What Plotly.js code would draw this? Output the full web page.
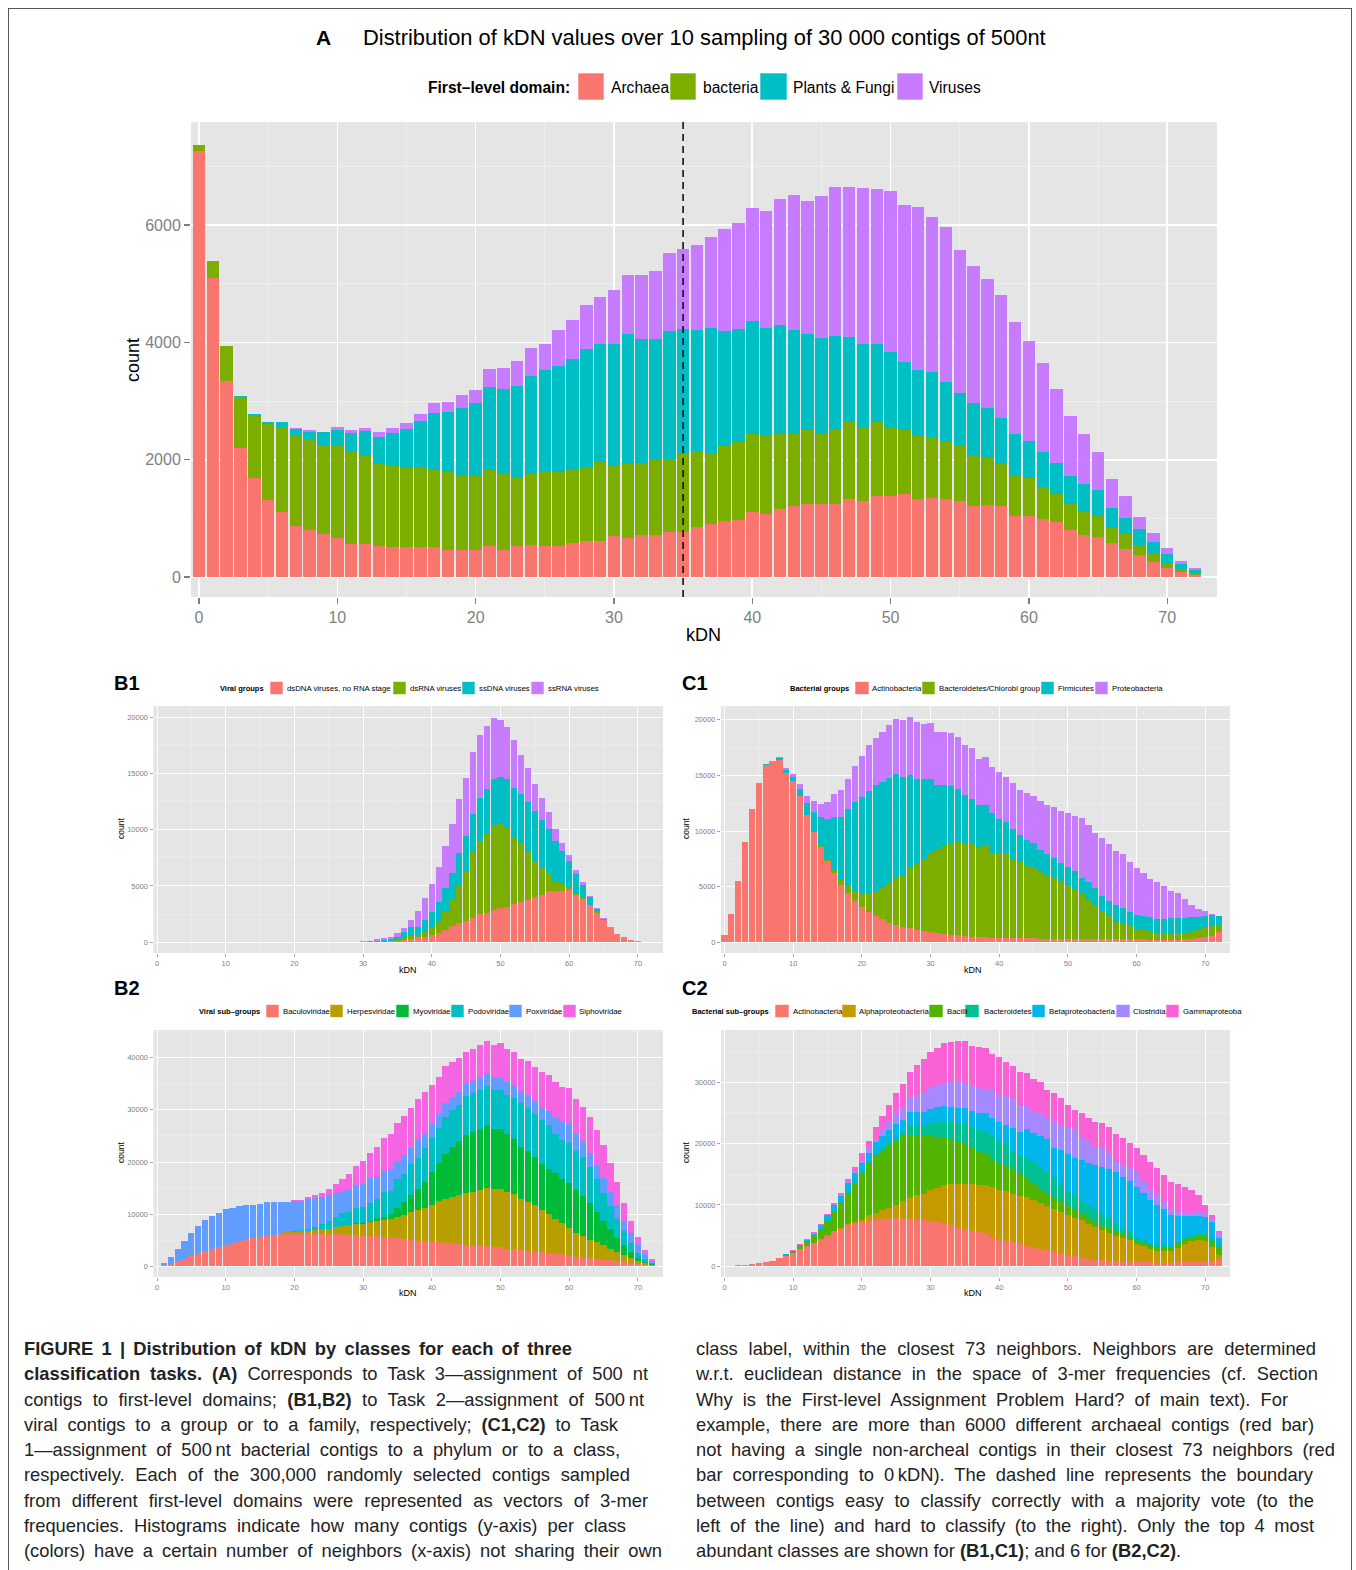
<!DOCTYPE html>
<html>
<head>
<meta charset="utf-8">
<script src="https://cdn.plot.ly/plotly-3.0.1.min.js"></script>
<style>
  html, body { margin:0; padding:0; background:#fff; width:1356px; height:1570px; overflow:hidden; }
  #frame { position:absolute; left:8px; top:8px; width:1344px; height:1620px; border:1px solid #555; box-sizing:border-box; }
  #chart { position:absolute; left:0; top:0; width:1356px; height:1320px; }
  .capline { position:absolute; white-space:nowrap; font-family:"Liberation Sans", Arial, sans-serif; font-size:19px; line-height:22px; color:#222; transform-origin:0 50%; }
</style>
</head>
<body>
<div id="frame"></div>
<div id="chart"></div>
<div id="caption"></div>
<script>
// ---------------- DATA ----------------
const kdn = Array.from({length:73}, (_, i) => i);
const kdnTicks = [0,10,20,30,40,50,60,70];

// Panel A: first-level domains
const aNames = ["Archaea","bacteria","Plants & Fungi","Viruses"];
const aArchaea = [7270,5100,3350,2200,1680,1320,1100,875,805,735, 660,555,555,530,510,510,505,510,465,465, 465,525,465,525,545,535,535,575,610,610, 705,665,720,715,765,775,850,910,950,975, 1100,1080,1160,1205,1245,1250,1245,1335,1295,1375, 1375,1410,1325,1345,1325,1290,1205,1220,1215,1035, 1035,990,930,805,710,690,575,485,370,250, 150,85,30];
const aBacteria = [100,290,590,870,1080,1290,1460,1535,1540,1515, 1575,1575,1515,1400,1400,1350,1370,1320,1325,1260, 1255,1305,1295,1170,1205,1270,1255,1255,1270,1350, 1185,1260,1230,1280,1240,1330,1295,1210,1290,1330, 1340,1320,1285,1225,1260,1195,1285,1305,1255,1275, 1180,1100,1075,1040,985,955,880,810,715,690, 655,540,490,435,400,355,265,245,180,140, 90,50,30];
const aPlantsFungi = [0,0,0,10,25,35,85,110,135,215, 280,320,415,455,540,665,780,970,1025,1150, 1240,1410,1450,1565,1675,1720,1805,1885,2000,2010, 2090,2210,2105,2070,2195,2120,2075,2125,1960,1920, 1930,1845,1855,1780,1635,1630,1580,1460,1430,1325, 1280,1155,1135,1110,1010,885,880,850,775,705, 630,605,525,485,480,430,345,280,265,200, 160,85,55];
const aViruses = [0,0,0,0,0,0,0,15,35,15, 35,50,55,80,95,95,130,165,170,235, 235,300,360,415,480,455,620,670,765,805, 920,1010,1100,1145,1325,1370,1445,1555,1740,1810, 1920,1990,2150,2300,2265,2420,2535,2555,2660,2640, 2740,2670,2775,2650,2640,2450,2340,2205,2095,1915, 1710,1515,1265,1015,840,650,490,370,215,160, 95,60,45];
const kdnBoundary = 35;

// Panel B1: viral groups
const b1Names = ["dsDNA viruses, no RNA stage","dsRNA viruses","ssDNA viruses","ssRNA viruses"];
const b1dsDNA = [0,0,0,0,0,0,0,0,0,0, 0,0,0,0,0,0,0,0,0,0, 0,0,0,0,0,0,0,0,0,0, 20,30,50,70,80, 90,235,325,445,505,650,830,1095,1420,1685,1865,2130,2485,2605,2870,3050,3165,3405,3550,3760,3995,4170,4525,4525,4555,4645,4230,3845,3285,2635,1985,1270,740,500,210,90,30,0];
const b1dsRNA = [0,0,0,0,0,0,0,0,0,0, 0,0,0,0,0,0,0,0,0,0, 0,0,0,0,0,0,0,0,0,0, 10,20,40,60,80, 115,150,265,180,385,590,1005,1655,2310,3345,4410,5950,6450,6985,7545,7485,7040,5975,5265,4290,3255,2545,1630,945,590,295,90,90,30,30,0,0,0,0,0,0,0,0];
const b1ssDNA = [0,0,0,0,0,0,0,0,0,0, 0,0,0,0,0,0,0,0,0,0, 0,0,0,0,0,0,0,0,0,10, 20,30,70,90,130, 295,530,770,770,1125,1450,1715,2100,2455,2900,3195,3285,3905,4055,4115,4115,4260,4320,4350,4440,4440,4140,3875,3490,2990,2310,1775,1185,710,325,115,30,0,0,0,0,0,0];
const b1ssRNA = [0,0,0,0,0,0,0,0,0,0, 0,0,0,0,0,0,0,0,0,0, 0,0,0,0,0,0,0,0,0,20, 30,40,110,135,210, 330,355,620,1420,1895,2515,3105,3700,4320,4795,5150,5505,5535,5590,5415,5060,4675,4290,3460,2990,2395,1985,1510,1065,710,530,295,235,120,60,60,30,0,0,0,0,0,0];

// Panel C1: bacterial groups
const c1Names = ["Actinobacteria","Bacteroidetes/Chlorobi group","Firmicutes","Proteobacteria"];
const c1Actino = [660,2520,5480,8980,11980,14340,15960,16170,16380,15210, 14460,13140,11410,9880,8590,7305,6230,5180,4430,3745, 3205,2755,2365,2065,1765,1585,1405,1255,1110,1020, 900,810,720,660,630,540,510,480,450,420, 420,420,390,390,360,360,330,330,330,300, 300,300,300,300,300,270,270,270,270,270, 270,270,240,240,240,240,240,270,330,390, 450,570,930];
const c1Bactero = [0,0,0,0,0,0,0,0,0,0, 0,0,0,0,60,180,270,420,630,900, 1255,1705,2275,2785,3535,4160,4610,5540,5985,6465, 7095,7455,7965,8290,8380,8350,8295,8025,8325,7575, 7575,7575,7095,6795,6555,6435,5990,5720,5420,5150, 4820,4520,4010,3620,3055,2545,2125,1525,1470,1200, 960,930,750,630,570,480,570,600,690,750, 960,900,570];
const c1Firmi = [0,0,0,0,0,0,20,60,150,270, 420,660,1140,1830,2575,3625,4790,5690,6945,7965, 8595,9160,9490,9580,9460,9340,8860,8235,7545,7155, 6645,5870,5420,5120,4790,4370,4070,3830,3530,3650, 3055,2815,2725,2485,2275,2155,1975,1885,1855,1645, 1675,1585,1470,1470,1495,1350,1350,1590,1375,1260, 1225,1165,1315,1260,1320,1435,1380,1320,1230,1110, 990,990,870];
const c1Proteo = [0,0,0,0,0,0,0,30,90,150, 270,420,630,960,1195,1465,2005,2395,2695,3235, 3685,4070,4250,4490,4790,4970,5120,5180,5180,5000, 5060,4790,4820,4760,4610,4430,4580,4160,4310,4130, 4220,4070,4130,4040,4190,4220,4400,4400,4550,4670, 4790,4910,5360,5180,4970,5240,5090,4820,4850,4490, 4190,3890,3415,3260,2935,2485,2215,1675,1105,780, 390,90,0];

// Panel B2: viral sub-groups
const b2Names = ["Baculoviridae","Herpesviridae","Myoviridae","Podoviridae","Poxviridae","Siphoviridae"];
const b2Baculo = [0,190,450,1090,1340,1920,2560,2940,3330,3780, 4160,4480,4800,5180,5440,5700,5890,5950,6140,6210, 6270,6270,6340,6210,6140,6080,6140,6140,6080,6020, 5890,5890,5820,5570,5570,5380,5250,5060,4930,4800, 4800,4610,4540,4420,4220,4160,4030,3970,3900,3710, 3650,3390,3260,3070,3010,2750,2690,2560,2430,2370, 2110,1860,1660,1540,1410,1280,1220,1020,830,580, 380,260,190];
const b2Herpes = [0,0,0,0,0,0,0,0,0,0, 0,0,0,0,0,0,130,130,260,320, 320,450,510,700,960,1150,1470,1600,1860,2110, 2300,2620,2880,3330,3460,4160,4670,5380,5890,6460, 7040,7940,8450,8900,9470,9980,10240,10620,11070,11070, 11140,10820,10560,9920,9340,8960,8190,7490,6720,5950, 5310,4540,4100,3580,3260,2880,2180,1790,1340,1090, 580,320,130];
const b2Myo = [0,0,0,0,0,0,0,0,0,0, 0,0,0,0,0,0,0,0,0,0, 0,0,0,0,0,0,0,0,0,130, 130,260,510,580,960,1730,2370,3140,4030,4990, 6270,7170,8580,9470,10300,11010,11520,11710,12100,11580, 11580,11070,10500,9980,9730,9280,8830,8700,8770,8510, 8580,8260,7680,6980,5700,4480,3710,2620,1920,1090, 580,190,60];
const b2Podo = [0,0,0,0,0,0,0,0,0,0, 0,0,0,0,0,0,0,0,0,0, 260,320,380,640,1020,1410,1790,2430,2500,2940, 3070,3460,3780,4800,4480,5440,5500,5950,5950,6530, 6530,6850,7100,7170,6910,7420,7420,7420,7550,7490, 7360,7550,7940,8260,8320,8130,8320,8320,7360,7420, 7740,7490,7550,6910,6460,5380,4540,3710,2750,1730, 1090,580,190];
const b2Pox = [130,510,1280,2180,3460,4480,5180,5890,6340,6530, 6780,6780,6780,6600,6400,6270,6270,6210,5950,5760, 5760,5570,5630,5570,5250,4990,4610,4350,4290,4350, 4350,4610,4220,3970,3970,3520,3520,3070,3520,2820, 2560,2560,2620,2500,2620,2300,2300,2430,2500,2430, 2560,2500,2560,2370,2370,2370,2560,2750,3070,3460, 3520,3200,2820,2690,2620,2880,2560,2620,1790,1920, 1730,1090,510];
const b2Sipho = [0,0,0,0,0,0,0,0,0,0, 0,0,0,0,0,0,0,0,0,0, 130,190,380,580,770,1280,1860,2300,3010,3650, 4480,4860,5630,6340,6980,7300,7550,7810,7680,7740, 7550,7230,7100,6780,6400,6270,6140,6270,6080,6140, 6460,6400,6270,6210,6590,6720,6720,6850,6980,6660, 6910,6720,6720,6850,6720,6340,5630,4480,3520,2240, 1220,700,260];

// Panel C2: bacterial sub-groups
const c2Names = ["Actinobacteria","Alphaproteobacteria","Bacilli","Bacteroidetes","Betaproteobacteria","Clostridia","Gammaproteobacteria"];
const c2Actino = [50,100,160,220,380,490,650,920,1360,1630, 2170,2770,3260,3800,4350,5000,5710,6140,6690,6960, 7230,7450,7610,7720,7770,7830,7770,7720,7550,7500, 7390,7170,6960,6740,6250,6030,5760,5540,5270,4840, 4510,4190,3970,3700,3370,3150,2880,2610,2390,2010, 1790,1630,1470,1250,1090,980,870,820,760,710, 650,650,650,600,600,600,650,650,710,710, 760,820,1090];
const c2Alpha = [0,0,0,0,0,0,0,0,0,0, 0,0,50,50,110,110,110,160,220,270, 270,870,1140,1410,1790,2230,2830,3320,4020,4350, 5000,5650,6250,6690,7230,7450,7610,7770,7940,8040, 7990,8040,7880,7770,7940,7610,7500,7170,7010,6850, 6520,6250,6030,5710,5330,4890,4570,4080,3860,3590, 3040,2660,2230,1960,1960,1900,2340,3040,3420,3530, 3370,2330,820];
const c2Bacilli = [0,0,0,0,0,0,0,0,0,220, 280,540,770,1040,1580,2230,3040,3910,5050,6410, 7660,8260,9240,9670,10160,10220,10760,10330,9730,9400, 8860,8100,7770,7280,6960,6410,5980,5330,5050,4670, 4350,4240,3910,3480,3260,2720,2280,2230,1740,1740, 1630,1410,980,920,820,820,820,710,710,490, 490,540,490,600,600,650,710,650,600,710, 1030,980,1250];
const c2Bactero = [0,0,0,0,0,0,0,0,0,0, 0,0,0,0,110,160,220,220,160,220, 270,330,380,540,540,820,540,1410,1520,1740, 2070,2500,2560,2830,2940,3320,3370,3480,3640,3700, 3590,3420,2940,2990,3260,3530,3530,3370,3420,2610, 2280,2390,2170,2170,2010,1900,1630,1360,820,820, 600,490,430,380,380,270,270,330,330,330, 270,380,270];
const c2Beta = [0,0,0,0,0,0,0,0,0,110, 110,220,270,430,650,820,870,1030,1410,1410, 1410,1580,1790,1900,2010,2060,1900,2280,2340,2170, 2230,2450,2550,2440,2440,2500,2610,2830,2990,2830, 2990,3100,3750,3970,4510,4730,5050,5430,4730,5710, 6140,6030,6740,6690,7170,7610,7880,8420,8420,8260, 8150,7660,6960,6410,5870,5000,4240,3480,3150,2880, 2610,2720,1200];
const c2Clost = [0,0,0,0,0,0,0,0,0,0, 0,0,0,0,0,0,0,110,220,220, 330,710,650,1090,1250,1690,1900,2280,2720,3260, 3420,3480,3800,3970,4130,3910,4130,4130,3970,4620, 4460,4730,4730,4350,3800,3480,3750,3260,4400,4080, 4180,4460,3700,3640,3040,3260,2500,1740,1900,2070, 2450,1900,1900,1630,1090,710,650,600,540,600, 540,270,870];
const c2Gamma = [0,0,0,0,0,0,0,0,0,0, 50,110,110,270,160,220,330,380,430,710, 1200,1250,1900,2170,2720,3310,3970,4350,4890,5330, 5870,6250,6470,6520,6740,7010,6470,6690,6630,5870, 6250,5490,5490,5430,5270,5270,4950,4620,4460,4350, 3700,3260,3800,3800,4080,3800,4350,4400,4460,4080, 3910,4190,4350,4350,4350,4620,4460,4190,3640,2830, 1360,820,220];

// ---------------- STYLE ----------------
const W = 1356, H = 1320;
const FONT = '"Liberation Sans", Arial, Helvetica, sans-serif';
const GREY = '#7F7F7F';
const col4 = ['#F8766D','#7CAE00','#00BFC4','#C77CFF'];
const col6 = ['#F8766D','#B79F00','#00BA38','#00BFC4','#619CFF','#F564E3'];
const col7 = ['#F8766D','#C49A00','#53B400','#00C094','#00B6EB','#A58AFF','#FB61D7'];

const px = x => x / W;
const py = y => 1 - y / H;

const traces = [];
function addPanel(xa, ya, seriesList, names, colors) {
  seriesList.forEach((s, i) => {
    traces.push({
      type: 'bar', x: kdn, y: s, name: names[i], xaxis: xa, yaxis: ya,
      marker: { color: colors[i], line: { width: 0 } },
      showlegend: false, hoverinfo: 'x+y+name'
    });
  });
}
addPanel('x',  'y',  [aArchaea, aBacteria, aPlantsFungi, aViruses], aNames, col4);
addPanel('x2', 'y2', [b1dsDNA, b1dsRNA, b1ssDNA, b1ssRNA], b1Names, col4);
addPanel('x3', 'y3', [c1Actino, c1Bactero, c1Firmi, c1Proteo], c1Names, col4);
addPanel('x4', 'y4', [b2Baculo, b2Herpes, b2Myo, b2Podo, b2Pox, b2Sipho], b2Names, col6);
addPanel('x5', 'y5', [c2Actino, c2Alpha, c2Bacilli, c2Bactero, c2Beta, c2Clost, c2Gamma], c2Names, col7);

function xAxis(left, right, range, anchor, big) {
  return {
    domain: [px(left), px(right)], range: range, anchor: anchor,
    tickmode: 'array', tickvals: kdnTicks, ticks: 'outside',
    ticklen: big ? 6 : 3, tickwidth: big ? 1.4 : 0.7, tickcolor: GREY,
    tickfont: { family: FONT, size: big ? 16 : 7.5, color: GREY },
    showgrid: true, gridcolor: '#FFFFFF', gridwidth: big ? 1.6 : 0.9,
    minor: { dtick: 5, tick0: 0, showgrid: true, gridcolor: '#F4F4F4', gridwidth: big ? 0.7 : 0.4, ticks: '' },
    zeroline: false, showline: false, fixedrange: true
  };
}
function yAxis(top, bottom, range, anchor, tickvals, minorDt, big) {
  return {
    domain: [py(bottom), py(top)], range: range, anchor: anchor,
    tickmode: 'array', tickvals: tickvals, tickformat: 'd', ticks: 'outside',
    ticklen: big ? 6 : 3, tickwidth: big ? 1.4 : 0.7, tickcolor: GREY,
    tickfont: { family: FONT, size: big ? 16 : 7.5, color: GREY },
    showgrid: true, gridcolor: '#FFFFFF', gridwidth: big ? 1.6 : 0.9,
    minor: { dtick: minorDt, tick0: 0, showgrid: true, gridcolor: '#F4F4F4', gridwidth: big ? 0.7 : 0.4, ticks: '' },
    zeroline: false, showline: false, fixedrange: true
  };
}

const annotations = [];
function ann(text, x, y, o = {}) {
  annotations.push(Object.assign({
    text: text, xref: 'paper', yref: 'paper', x: px(x), y: py(y),
    xanchor: 'left', yanchor: 'middle', showarrow: false,
    font: { family: FONT, size: 12, color: '#000' }
  }, o));
}
const shapes = [];
function swatch(x0, x1, y0, y1, color) {
  shapes.push({ type: 'rect', xref: 'paper', yref: 'paper', x0: px(x0), x1: px(x1), y0: py(y1), y1: py(y0),
    fillcolor: color, line: { width: 0.6, color: '#FFFFFF' }, layer: 'above' });
}

// Panel A titles
ann('<b>A</b>', 323, 37, { xanchor: 'center', font: { family: FONT, size: 21, color: '#000' } });
ann('Distribution of kDN values over 10 sampling of 30 000 contigs of 500nt', 361, 37, { font: { family: FONT, size: 21.9, color: '#000' } });
ann('<b>First–level domain:</b>', 572, 87, { xanchor: 'right', font: { family: FONT, size: 15.6, color: '#000' } });
[[578,604,609],[670,696,701],[760,787,791],[897,923,927]].forEach((p, i) => {
  swatch(p[0], p[1], 73, 100, col4[i]);
  ann(aNames[i], p[2], 87, { font: { family: FONT, size: 15.6, color: '#000' } });
});
ann('count', 133, 360, { xanchor: 'center', textangle: -90, font: { family: FONT, size: 18, color: '#000' } });
ann('kDN', 703, 635, { xanchor: 'center', font: { family: FONT, size: 18, color: '#000' } });

// Panel labels
ann('<b>B1</b>', 112, 683, { font: { family: FONT, size: 20, color: '#000' } });
ann('<b>C1</b>', 680, 683, { font: { family: FONT, size: 20, color: '#000' } });
ann('<b>B2</b>', 112, 988, { font: { family: FONT, size: 20, color: '#000' } });
ann('<b>C2</b>', 680, 988, { font: { family: FONT, size: 20, color: '#000' } });

// Small legends
function smallLegend(title, titleRight, yc, items, names, colors) {
  ann('<b>' + title + '</b>', titleRight, yc, { xanchor: 'right', font: { family: FONT, size: 7.5, color: '#000' } });
  items.forEach((p, i) => {
    swatch(p[0], p[1], yc - 6.5, yc + 6.5, colors[i]);
    ann(names[i], p[2], yc, { font: { family: FONT, size: 7.8, color: '#000' } });
  });
}
smallLegend('Viral groups', 266, 688, [[270,283,285],[393,406,408],[462,475,477],[531,544,546]], b1Names, col4);
smallLegend('Bacterial groups', 851, 688, [[855,869,870],[922,935,937],[1041,1054,1056],[1095,1108,1110]], c1Names, col4);
smallLegend('Viral sub–groups', 262, 1011, [[266,279,281],[330,343,345],[396,409,411],[451,464,466],[509,522,524],[563,576,577]], b2Names, col6);
smallLegend('Bacterial sub–groups', 771, 1011, [[775,789,791],[842,856,857],[929,943,945],[965,979,982],[1032,1045,1047],[1116,1130,1131],[1166,1179,1181]],
  ['Actinobacteria','Alphaproteobacteria','Bacilli','Bacteroidetes','Betaproteobacteria','Clostridia','Gammaproteoba'], col7);

// small axis titles
[[121,829],[686,829],[121,1153],[686,1153]].forEach(p => ann('count', p[0], p[1], { xanchor: 'center', textangle: -90, font: { family: FONT, size: 8.5, color: '#000' } }));
[[408,970],[973,970],[408,1293],[973,1293]].forEach(p => ann('kDN', p[0], p[1], { xanchor: 'center', font: { family: FONT, size: 9, color: '#000' } }));

// dashed boundary line in A
shapes.push({ type: 'line', xref: 'x', yref: 'y domain', x0: kdnBoundary, x1: kdnBoundary, y0: 0, y1: 1,
  line: { color: '#111', width: 1.6, dash: '7px,5px' }, layer: 'above' });

const layout = {
  width: W, height: H, margin: { l: 0, r: 0, t: 0, b: 0 },
  paper_bgcolor: 'rgba(0,0,0,0)', plot_bgcolor: '#E5E5E5',
  barmode: 'stack', bargap: 0.1, showlegend: false,
  font: { family: FONT },
  xaxis:  xAxis(191, 1217, [-0.58, 73.6], 'y', true),
  yaxis:  yAxis(122, 597, [-341, 7758], 'x', [0,2000,4000,6000], 1000, true),
  xaxis2: xAxis(153.5, 663, [-0.51, 73.65], 'y2', false),
  yaxis2: yAxis(706, 953, [-950, 20977], 'x2', [0,5000,10000,15000,20000], 2500, false),
  xaxis3: xAxis(721, 1230, [-0.51, 73.6], 'y3', false),
  yaxis3: yAxis(706, 953, [-961, 21231], 'x3', [0,5000,10000,15000,20000], 2500, false),
  xaxis4: xAxis(153.5, 663, [-0.51, 73.65], 'y4', false),
  yaxis4: yAxis(1030, 1277, [-2054, 45315], 'x4', [0,10000,20000,30000,40000], 5000, false),
  xaxis5: xAxis(721, 1230, [-0.51, 73.6], 'y5', false),
  yaxis5: yAxis(1030, 1277, [-1745, 38480], 'x5', [0,10000,20000,30000], 5000, false),
  annotations: annotations, shapes: shapes
};

Plotly.newPlot('chart', traces, layout, { displayModeBar: false, staticPlot: true });

// ---------------- CAPTION ----------------
const capLeftLines = [
  '<b>FIGURE 1 | Distribution of kDN by classes for each of three</b>',
  '<b>classification tasks. (A)</b> Corresponds to Task 3—assignment of 500 nt',
  'contigs to first-level domains; <b>(B1,B2)</b> to Task 2—assignment of 500&#8201;nt',
  'viral contigs to a group or to a family, respectively; <b>(C1,C2)</b> to Task',
  '1—assignment of 500&#8201;nt bacterial contigs to a phylum or to a class,',
  'respectively. Each of the 300,000 randomly selected contigs sampled',
  'from different first-level domains were represented as vectors of 3-mer',
  'frequencies. Histograms indicate how many contigs (y-axis) per class',
  '(colors) have a certain number of neighbors (x-axis) not sharing their own'
];
const capLeftEnds = [572, 648, 644, 618, 620, 630, 648, 626, 662];
const capRightLines = [
  'class label, within the closest 73 neighbors. Neighbors are determined',
  'w.r.t. euclidean distance in the space of 3-mer frequencies (cf. Section',
  'Why is the First-level Assignment Problem Hard? of main text). For',
  'example, there are more than 6000 different archaeal contigs (red bar)',
  'not having a single non-archeal contigs in their closest 73 neighbors (red',
  'bar corresponding to 0&#8201;kDN). The dashed line represents the boundary',
  'between contigs easy to classify correctly with a majority vote (to the',
  'left of the line) and hard to classify (to the right). Only the top 4 most',
  'abundant classes are shown for <b>(B1,C1)</b>; and 6 for <b>(B2,C2)</b>.'
];
const capRightEnds = [1316, 1318, 1288, 1314, 1335, 1313, 1314, 1314, null];

const cap = document.getElementById('caption');
function placeLines(lines, ends, x0) {
  lines.forEach((html, i) => {
    const d = document.createElement('div');
    d.className = 'capline';
    d.innerHTML = html;
    const yc = 1349 + 25.25 * i;
    d.style.left = x0 + 'px';
    d.style.top = (yc - 11) + 'px';
    cap.appendChild(d);
    const w = d.getBoundingClientRect().width;
    const s0 = 0.965;
    if (ends[i] === null) {
      d.style.transform = 'scaleX(' + s0 + ')';
      return;
    }
    const T = ends[i] - x0;
    const nSpaces = (d.textContent.match(/ /g) || []).length;
    if (w * s0 >= T || nSpaces === 0) {
      d.style.transform = 'scaleX(' + (T / w) + ')';
    } else {
      const ws = (T / s0 - w) / nSpaces;
      d.style.wordSpacing = ws + 'px';
      d.style.transform = 'scaleX(' + s0 + ')';
    }
  });
}
placeLines(capLeftLines, capLeftEnds, 24);
placeLines(capRightLines, capRightEnds, 696);
</script>
</body>
</html>
